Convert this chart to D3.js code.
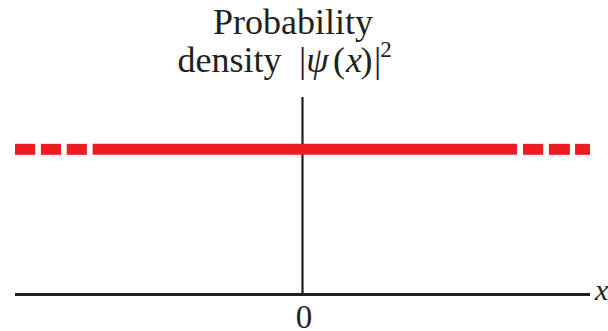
<!DOCTYPE html>
<html>
<head>
<meta charset="utf-8">
<script src="https://cdn.jsdelivr.net/npm/d3@7"></script>
<style>
  html, body { margin: 0; padding: 0; background: #fff; }
  svg { display: block; }
  .serif { font-family: "Liberation Serif", "Times New Roman", "DejaVu Serif", serif; }
</style>
</head>
<body>
<svg id="chart" width="608" height="331"></svg>
<script>
// Constant probability density of a free particle (plane wave): |psi(x)|^2 is flat.
// Dashed ends indicate the density continuing indefinitely in both directions.
const xDomain = [-1, 1];
const yDomain = [0, 1];
const densityValue = 0.735;
// Pieces of the density line along x: leading dashes, solid middle, trailing dashes.
const densitySegments = [
  [-1.00, -0.93], [-0.91, -0.84], [-0.82, -0.75],
  [-0.73, 0.746],
  [0.767, 0.837], [0.857, 0.93], [0.948, 1.00]
];
const xTickValues = [0];
const xTickLabels = ["0"];

const svg = d3.select("#chart");
const x = d3.scaleLinear().domain(xDomain).range([15, 590]);
const y = d3.scaleLinear().domain(yDomain).range([294.5, 97]);

const ink = "#231f20";
const red = "#ed1c24";

// Horizontal x axis
svg.append("line")
  .attr("x1", x(xDomain[0])).attr("x2", x(xDomain[1]))
  .attr("y1", y(0)).attr("y2", y(0))
  .attr("stroke", ink).attr("stroke-width", 3.2);

// Vertical axis at x = 0
svg.append("line")
  .attr("x1", x(0)).attr("x2", x(0))
  .attr("y1", y(0)).attr("y2", y(yDomain[1]))
  .attr("stroke", ink).attr("stroke-width", 2.2);

// Density line
svg.selectAll("line.density")
  .data(densitySegments)
  .join("line")
  .attr("class", "density")
  .attr("x1", d => x(d[0])).attr("x2", d => x(d[1]))
  .attr("y1", y(densityValue)).attr("y2", y(densityValue))
  .attr("stroke", red).attr("stroke-width", 11);

// Tick label(s)
svg.selectAll("text.tick")
  .data(xTickValues)
  .join("text")
  .attr("class", "tick serif")
  .attr("x", d => x(d) + 1.5)
  .attr("y", 327.5)
  .attr("text-anchor", "middle")
  .attr("font-size", 33)
  .attr("fill", ink)
  .text((d, i) => xTickLabels[i]);

// Axis variable
svg.append("text")
  .attr("class", "serif")
  .attr("x", 595).attr("y", 300)
  .attr("font-style", "italic")
  .attr("font-size", 30)
  .attr("fill", ink)
  .text("x");

// Axis title, first line
svg.append("text")
  .attr("class", "serif")
  .attr("font-size", 36)
  .attr("fill", ink)
  .attr("text-anchor", "middle")
  .attr("x", 293).attr("y", 34)
  .text("Probability");

// Axis title, second line: density |psi(x)|^2 set piece by piece
const line2 = svg.append("text")
  .attr("class", "serif")
  .attr("font-size", 36)
  .attr("fill", ink)
  .attr("text-anchor", "middle")
  .attr("y", 72);
const pieces = [
  { t: "density", cx: 229.5 },
  { t: "|", cx: 302.5 },
  { t: "ψ", cx: 317.5, italic: true },
  { t: "(", cx: 339 },
  { t: "x", cx: 354, italic: true },
  { t: ")", cx: 366.5 },
  { t: "|", cx: 377.5 }
];
pieces.forEach(p => {
  line2.append("tspan")
    .attr("x", p.cx)
    .attr("y", 72)
    .attr("font-style", p.italic ? "italic" : null)
    .text(p.t);
});
line2.append("tspan")
  .attr("x", 386).attr("y", 57)
  .attr("font-size", 23)
  .text("2");
</script>
</body>
</html>
